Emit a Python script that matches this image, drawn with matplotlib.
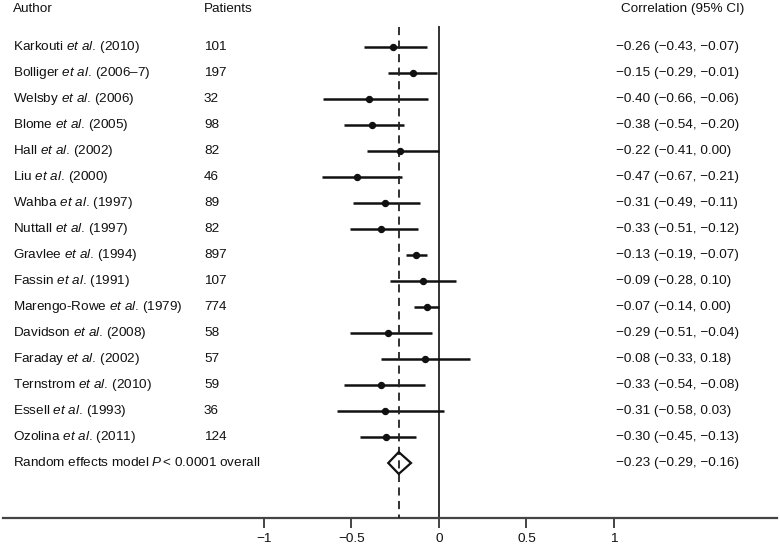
import matplotlib
matplotlib.use("Agg")
import matplotlib.pyplot as plt
from matplotlib.transforms import blended_transform_factory
import numpy as np

plt.rcParams['font.family'] = ['Liberation Sans', 'DejaVu Sans']
plt.rcParams['mathtext.fontset'] = 'custom'
plt.rcParams['mathtext.rm'] = 'Liberation Sans'
plt.rcParams['mathtext.it'] = 'Liberation Sans:italic'

authors = ["Karkouti", "Bolliger", "Welsby", "Blome", "Hall", "Liu", "Wahba",
           "Nuttall", "Gravlee", "Fassin", "Marengo-Rowe", "Davidson",
           "Faraday", "Ternstrom", "Essell", "Ozolina"]
years = ["2010", "2006\u20137", "2006", "2005", "2002", "2000", "1997", "1997",
         "1994", "1991", "1979", "2008", "2002", "2010", "1993", "2011"]
patients = [101, 197, 32, 98, 82, 46, 89, 82, 897, 107, 774, 58, 57, 59, 36, 124]
est = [-0.26, -0.15, -0.40, -0.38, -0.22, -0.47, -0.31, -0.33, -0.13, -0.09,
       -0.07, -0.29, -0.08, -0.33, -0.31, -0.30]
lo = [-0.43, -0.29, -0.66, -0.54, -0.41, -0.67, -0.49, -0.51, -0.19, -0.28,
      -0.14, -0.51, -0.33, -0.54, -0.58, -0.45]
hi = [-0.07, -0.01, -0.06, -0.20, 0.00, -0.21, -0.11, -0.12, -0.07, 0.10,
      0.00, -0.04, 0.18, -0.08, 0.03, -0.13]
overall_est, overall_lo, overall_hi = -0.23, -0.29, -0.16
xticks = [-1, -0.5, 0, 0.5, 1]
xticklabels = ["\u22121", "\u22120.5", "0", "0.5", "1"]

W, H = 780, 545
fig = plt.figure(figsize=(W / 100, H / 100), dpi=100)
ax = fig.add_axes([0, 0, 1, 1])

# pixel-based layout -> data limits
px_per_unit = 175.0
x0_px = 439.0
ax.set_xlim(-x0_px / px_per_unit, (W - x0_px) / px_per_unit)
row0_px, row_step = 47.0, 26.0
ax.set_ylim((H - row0_px) / row_step, -row0_px / row_step)

axis_y = (518 - row0_px) / row_step
top_y = (27 - row0_px) / row_step

n = len(authors)
rows = np.arange(n)

def fmt(v):
    s = f"{abs(v):.2f}"
    return ("\u2212" + s) if v < 0 else s

col = "#111111"
fs = 9.7
trans = blended_transform_factory(ax.transAxes, ax.transData)

# reference lines
ax.plot([0, 0], [top_y, axis_y], color="#333333", lw=1.4, zorder=1)
ax.plot([overall_est, overall_est], [top_y, axis_y], color="#222222", lw=1.3,
        ls=(0, (4.5, 3)), zorder=3)

# study CIs and points
for i in rows:
    ax.plot([lo[i], hi[i]], [i, i], color=col, lw=1.8, solid_capstyle='butt', zorder=2)
ax.plot(est, rows, 'o', color=col, ms=4.3, zorder=4)

# overall diamond
oy = n
dh = 0.42
ax.fill([overall_lo, overall_est, overall_hi, overall_est, overall_lo],
        [oy, oy - dh, oy, oy + dh, oy], facecolor='none', edgecolor=col, lw=1.6, zorder=4)

# text columns
hy = -1.45
ax.text(13 / W, hy, "Author", transform=trans, fontsize=fs, va='center', ha='left', color=col)
ax.text(204 / W, hy, "Patients", transform=trans, fontsize=fs, va='center', ha='left', color=col)
ax.text(621 / W, hy, "Correlation (95% CI)", transform=trans, fontsize=fs, va='center', ha='left', color=col)

for i in rows:
    ax.text(13 / W, i, f"{authors[i]} " + r"$\mathit{et\ al.}\,$" + f"({years[i]})",
            transform=trans, fontsize=fs, va='center', ha='left', color=col)
    ax.text(204 / W, i, str(patients[i]), transform=trans, fontsize=fs,
            va='center', ha='left', color=col)
    ax.text(616 / W, i, f"{fmt(est[i])} ({fmt(lo[i])}, {fmt(hi[i])})",
            transform=trans, fontsize=fs, va='center', ha='left', color=col)

ax.text(13 / W, oy, "Random effects model " + r"$\mathit{P}\,$" + "< 0.0001 overall",
        transform=trans, fontsize=fs, va='center', ha='left', color=col)
ax.text(616 / W, oy, f"{fmt(overall_est)} ({fmt(overall_lo)}, {fmt(overall_hi)})",
        transform=trans, fontsize=fs, va='center', ha='left', color=col)

# x axis
for s in ['top', 'right', 'left']:
    ax.spines[s].set_visible(False)
ax.spines['bottom'].set_position(('data', axis_y))
ax.spines['bottom'].set_bounds((3 - x0_px) / px_per_unit, (777 - x0_px) / px_per_unit)
ax.spines['bottom'].set_color("#444444")
ax.spines['bottom'].set_linewidth(1.6)
ax.set_xticks(xticks)
ax.set_xticklabels(xticklabels, fontsize=fs, color=col)
ax.tick_params(axis='x', direction='out', length=7, width=1.4, color="#444444", pad=4)
ax.set_yticks([])

fig.savefig("out.png", dpi=100)
